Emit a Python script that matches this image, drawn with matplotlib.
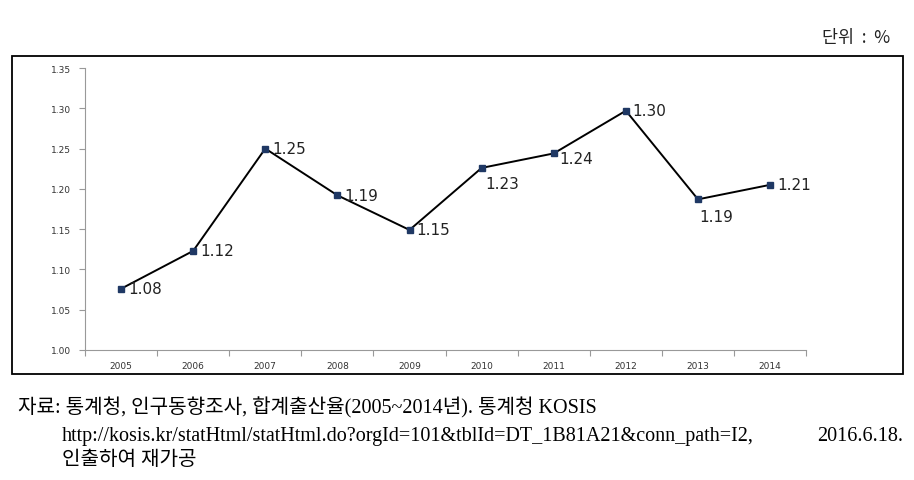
import matplotlib.pyplot as plt
from matplotlib.patches import Rectangle

years = ["2005", "2006", "2007", "2008", "2009", "2010", "2011", "2012", "2013", "2014"]
tfr = [1.076, 1.123, 1.250, 1.192, 1.149, 1.226, 1.244, 1.297, 1.187, 1.205]
labels = ["1.08", "1.12", "1.25", "1.19", "1.15", "1.23", "1.24", "1.30", "1.19", "1.21"]
y_ticks = [1.00, 1.05, 1.10, 1.15, 1.20, 1.25, 1.30, 1.35]

plt.rcParams['font.family'] = ['Liberation Serif', 'Noto Sans CJK KR', 'DejaVu Sans']

fig = plt.figure(figsize=(9.14, 4.81), dpi=100)

# 바깥 테두리
fig.patches.append(Rectangle((0.0131, 0.2204), 0.975, 0.661, transform=fig.transFigure,
                             fill=False, edgecolor='black', linewidth=1.3))

ax = fig.add_axes([0.093, 0.2703, 0.789, 0.5862])
x = list(range(len(years)))
ax.plot(x, tfr, color='black', linewidth=1.4, zorder=2)
ax.plot(x, tfr, linestyle='none', marker='s', markersize=5, color='#1F3864', zorder=3)

# 데이터 라벨 (일부는 아래쪽)
offsets = {5: (3, -11), 6: (4, -4), 8: (1, -12)}
for i, (v, lab) in enumerate(zip(tfr, labels)):
    dx, dy = offsets.get(i, (5, 0))
    ax.annotate(lab, (i, v), xytext=(dx, dy), textcoords='offset points',
                ha='left', va='center', fontsize=11, family='DejaVu Sans', color='#222')

ax.set_xlim(-0.5, len(years) - 0.5)
ax.set_ylim(1.00, 1.35)
ax.set_yticks(y_ticks)
ax.set_yticklabels([f"{t:.2f}" for t in y_ticks], fontsize=6.5, family='DejaVu Sans', color='#333')
ax.set_xticks(x)
ax.set_xticklabels(years, fontsize=6.5, family='DejaVu Sans', color='#333')
ax.tick_params(axis='x', which='major', length=0, pad=8)
ax.set_xticks([i - 0.5 for i in range(len(years) + 1)], minor=True)
ax.tick_params(axis='x', which='minor', length=4, color='#999', width=0.8)
ax.tick_params(axis='y', length=4, color='#999', width=0.8, pad=6)
for s in ['top', 'right']:
    ax.spines[s].set_visible(False)
for s in ['left', 'bottom']:
    ax.spines[s].set_color('#999')
    ax.spines[s].set_linewidth(0.8)

fig.text(0.974, 0.921, "단위  :  %", ha='right', va='center', fontsize=12.5, family='Noto Sans CJK KR', color='#222')

fig.text(0.020, 0.153, "자료: 통계청, 인구동향조사, 합계출산율(2005~2014년). 통계청 KOSIS",
         ha='left', va='center', fontsize=14.5)
fig.text(0.068, 0.092, "http://kosis.kr/statHtml/statHtml.do?orgId=101&tblId=DT_1B81A21&conn_path=I2,",
         ha='left', va='center', fontsize=14.5)
fig.text(0.988, 0.092, "2016.6.18.", ha='right', va='center', fontsize=14.5)
fig.text(0.068, 0.043, "인출하여 재가공", ha='left', va='center', fontsize=14.5)

fig.savefig("out.png", dpi=100)
